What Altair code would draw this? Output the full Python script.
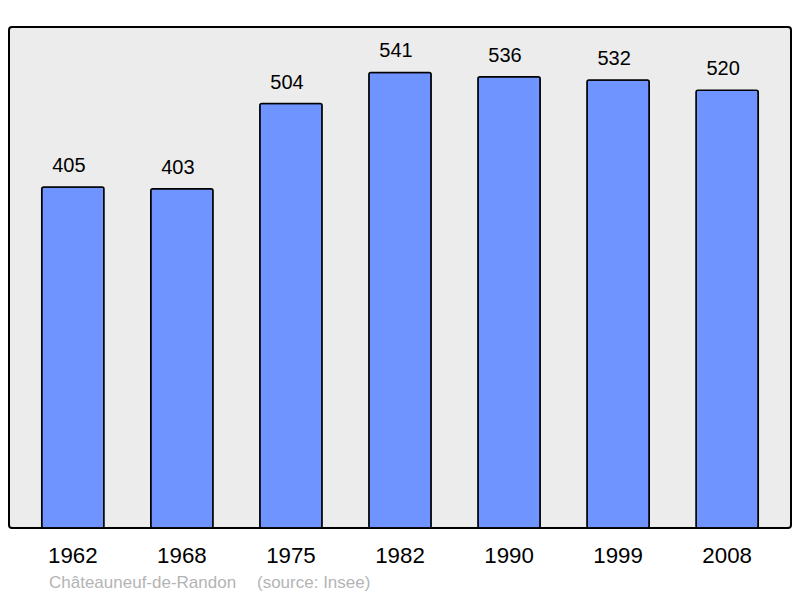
import altair as alt
import pandas as pd

years = ["1962", "1968", "1975", "1982", "1990", "1999", "2008"]
population = [405, 403, 504, 541, 536, 532, 520]
place = "Châteauneuf-de-Randon"
source = "(source: Insee)"

df = pd.DataFrame({"year": years, "pop": population})

font = "Liberation Sans"

x = alt.X("year:N", sort=years,
          scale=alt.Scale(paddingInner=0.429, paddingOuter=0.30),
          axis=alt.Axis(title=None, ticks=False, domain=False, labelAngle=0,
                        labelFontSize=22.3, labelColor="black", labelFont=font,
                        labelPadding=16))
y = alt.Y("pop:Q", scale=alt.Scale(domain=[0, 595]), axis=None)

bars = alt.Chart(df).mark_bar(color="#7094ff", stroke="black", strokeWidth=1.5,
                              cornerRadius=2).encode(x=x, y=y)

labels = alt.Chart(df).mark_text(baseline="bottom", dy=-11, dx=-4, fontSize=20,
                                 font=font, color="black").encode(
    x=x, y=y, text="pop:Q")

src1 = alt.Chart(pd.DataFrame({"t": [place]})).mark_text(
    align="left", baseline="middle", fontSize=17, font=font, color="#b4b4b4"
).encode(x=alt.value(40), y=alt.value(556), text="t:N")
src2 = alt.Chart(pd.DataFrame({"t": [source]})).mark_text(
    align="left", baseline="middle", fontSize=17, font=font, color="#b4b4b4"
).encode(x=alt.value(248), y=alt.value(556), text="t:N")

chart = alt.layer(bars, labels, src1, src2).properties(
    width=782, height=501,
    autosize=alt.AutoSizeParams(type="none"),
    padding={"left": 1, "top": 19, "right": 1, "bottom": 70},
).configure_view(
    stroke="black", strokeWidth=2, fill="#ececec", cornerRadius=3
)

chart.save("out.html", embed_options={"renderer": "svg", "actions": False})
